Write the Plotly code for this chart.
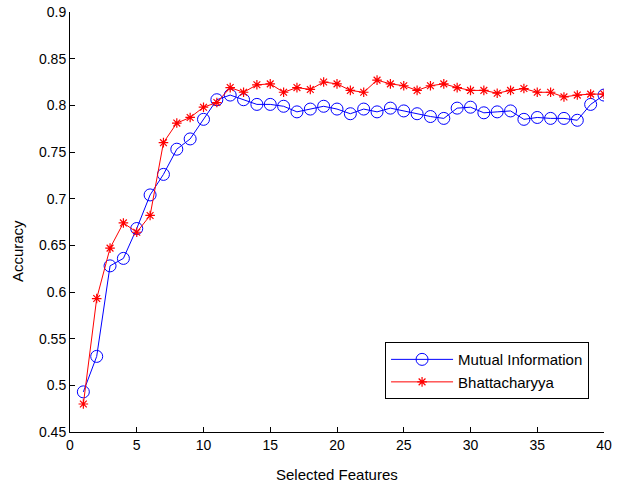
import plotly.graph_objects as go

features = list(range(1, 41))
mutual_information = [0.493, 0.531, 0.628, 0.636, 0.668, 0.704, 0.726, 0.753, 0.764, 0.785,
                      0.806, 0.811, 0.806, 0.801, 0.801, 0.799, 0.793, 0.796, 0.799, 0.796,
                      0.791, 0.796, 0.793, 0.797, 0.794, 0.791, 0.788, 0.786, 0.797, 0.798,
                      0.792, 0.793, 0.794, 0.785, 0.787, 0.786, 0.786, 0.784, 0.801, 0.811]
bhattacharyya = [0.480, 0.593, 0.647, 0.674, 0.664, 0.682, 0.760, 0.781, 0.787, 0.798,
                 0.803, 0.819, 0.814, 0.822, 0.823, 0.814, 0.819, 0.817, 0.825, 0.823,
                 0.816, 0.814, 0.827, 0.823, 0.821, 0.816, 0.821, 0.823, 0.819, 0.816,
                 0.816, 0.813, 0.816, 0.818, 0.814, 0.814, 0.809, 0.811, 0.812, 0.812]

FONT = "Liberation Sans, Arial, sans-serif"

fig = go.Figure()
fig.add_trace(go.Scatter(
    x=features, y=mutual_information, name="Mutual Information",
    mode="lines+markers",
    line=dict(color="#0000ff", width=1),
    marker=dict(symbol="circle-open", size=12, color="#0000ff", line=dict(width=1)),
))
fig.add_trace(go.Scatter(
    x=features, y=bhattacharyya, name="Bhattacharyya",
    mode="lines+markers",
    line=dict(color="#ff0000", width=1),
    marker=dict(symbol="asterisk-open", size=8, color="#ff0000", line=dict(width=1.2, color="#ff0000")),
))

fig.update_layout(
    width=618, height=485,
    margin=dict(l=70, r=14, t=12, b=53, autoexpand=False),
    paper_bgcolor="white", plot_bgcolor="white",
    font=dict(family=FONT, size=14, color="black"),
    legend=dict(
        x=0.59, y=0.214, xanchor="left", yanchor="top",
        bgcolor="white", bordercolor="black", borderwidth=1,
        font=dict(size=15), itemwidth=62, tracegroupgap=0,
    ),
    xaxis=dict(
        range=[0, 40], dtick=5, tick0=0, automargin=False,
        showline=True, linecolor="black", linewidth=1,
        ticks="inside", ticklen=5, tickcolor="black",
        showgrid=False, zeroline=False,
    ),
    yaxis=dict(
        range=[0.45, 0.9], dtick=0.05, tick0=0.45, automargin=False,
        showline=True, linecolor="black", linewidth=1,
        ticks="inside", ticklen=5, tickcolor="black",
        showgrid=False, zeroline=False,
    ),
    annotations=[
        dict(text="Selected Features", xref="paper", yref="paper",
             x=0.5, y=-0.1, yanchor="middle", xanchor="center",
             showarrow=False, font=dict(size=15)),
        dict(text="Accuracy", xref="paper", yref="paper",
             x=-0.098, y=0.43, xanchor="center", yanchor="middle",
             textangle=-90, showarrow=False, font=dict(size=15)),
    ],
)

fig.write_html("out.html")
